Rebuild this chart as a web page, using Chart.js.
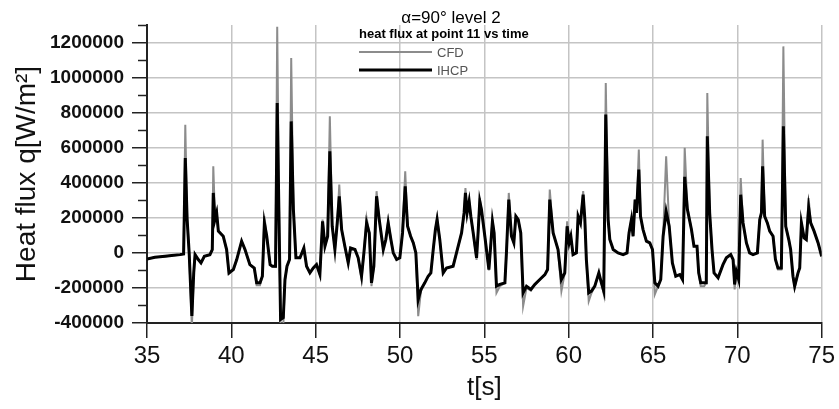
<!DOCTYPE html>
<html>
<head>
<meta charset="utf-8">
<script src="https://cdn.jsdelivr.net/npm/chart.js@4.4.1/dist/chart.umd.min.js"></script>
<style>
  html, body { margin: 0; padding: 0; background: #fff; }
  #wrap { width: 839px; height: 409px; }
</style>
</head>
<body>
<div id="wrap"><canvas id="heatChart" width="839" height="409"></canvas></div>
<script>
// time [s]
const timeS = [
  35.0, 35.47, 36.07, 36.46, 36.96, 37.17, 37.27, 37.38, 37.5, 37.66,
  37.77, 37.85, 38.04, 38.2, 38.4, 38.73, 38.87, 38.93, 39.03, 39.13,
  39.23, 39.52, 39.72, 39.86, 40.12, 40.32, 40.61, 40.81, 41.1, 41.36,
  41.5, 41.7, 41.84, 41.96, 42.1, 42.3, 42.43, 42.62, 42.72, 42.84,
  42.92, 43.08, 43.18, 43.3, 43.45, 43.55, 43.68, 43.83, 44.07, 44.3,
  44.46, 44.66, 44.86, 45.05, 45.25, 45.35, 45.41, 45.55, 45.71, 45.84,
  45.98, 46.14, 46.28, 46.4, 46.54, 46.73, 46.93, 47.07, 47.33, 47.52,
  47.72, 47.86, 48.02, 48.18, 48.31, 48.45, 48.61, 48.77, 49.01, 49.16,
  49.3, 49.46, 49.6, 49.8, 49.99, 50.15, 50.31, 50.45, 50.63, 50.79,
  50.94, 51.08, 51.24, 51.47, 51.67, 51.83, 51.97, 52.1, 52.2, 52.36,
  52.56, 52.76, 53.15, 53.35, 53.65, 53.8, 53.88, 53.98, 54.1, 54.2,
  54.34, 54.54, 54.63, 54.73, 54.83, 55.03, 55.27, 55.39, 55.48, 55.58,
  55.72, 55.92, 56.22, 56.31, 56.45, 56.61, 56.75, 56.87, 57.01, 57.16,
  57.3, 57.5, 57.76, 57.99, 58.29, 58.59, 58.75, 58.88, 59.08, 59.37,
  59.57, 59.77, 59.91, 60.03, 60.13, 60.26, 60.46, 60.56, 60.7, 60.86,
  60.96, 61.05, 61.19, 61.35, 61.55, 61.79, 61.94, 62.08, 62.2, 62.34,
  62.44, 62.64, 62.93, 63.23, 63.46, 63.58, 63.72, 63.82, 63.94, 64.02,
  64.16, 64.26, 64.41, 64.61, 64.81, 64.97, 65.11, 65.3, 65.46, 65.6,
  65.78, 65.96, 66.15, 66.35, 66.59, 66.75, 66.88, 67.04, 67.28, 67.43,
  67.61, 67.71, 67.83, 68.03, 68.16, 68.22, 68.36, 68.5, 68.62, 68.86,
  69.15, 69.35, 69.61, 69.75, 69.84, 69.94, 70.08, 70.2, 70.34, 70.54,
  70.73, 70.93, 71.19, 71.33, 71.43, 71.5, 71.62, 71.78, 71.92, 72.12,
  72.26, 72.41, 72.61, 72.73, 72.87, 73.05, 73.16, 73.3, 73.4, 73.6,
  73.7, 73.8, 73.96, 74.09, 74.23, 74.35, 74.55, 74.79, 75.0
];

// heat flux from the inverse method [W/m2]
const ihcpFlux = [
  -35000, -25000, -19000, -15000, -10000, -6000, 541000, 190000, 0, -360000,
  -114000, -10000, -38000, -57000, -19000, -10000, 19000, 342000, 190000, 228000,
  124000, 95000, 19000, -114000, -95000, -38000, 67000, 19000, -67000, -86000,
  -171000, -171000, -133000, 171000, 95000, -67000, -76000, -76000, 855000, 114000,
  -380000, -370000, -152000, -76000, -38000, 750000, 247000, -28000, -28000, 28000,
  -76000, -114000, -86000, -67000, -124000, 67000, 180000, 38000, 95000, 580000,
  152000, 19000, 171000, 323000, 133000, 38000, -57000, 28000, 19000, -28000,
  -133000, 0, 171000, 114000, -171000, -76000, 323000, 190000, 19000, 76000,
  171000, 76000, 0, -38000, -28000, 114000, 380000, 152000, 95000, 57000,
  0, -266000, -209000, -171000, -133000, -114000, 19000, 133000, 190000, 76000,
  -114000, -86000, -76000, 0, 114000, 228000, 342000, 228000, 294000, 209000,
  114000, -28000, 114000, 294000, 247000, 95000, -95000, 57000, 180000, 114000,
  -190000, -180000, -171000, 0, 304000, 95000, 57000, 209000, 190000, 114000,
  -228000, -190000, -209000, -180000, -152000, -124000, -95000, 304000, 114000, 19000,
  -152000, -114000, 152000, 57000, 95000, -10000, 0, 209000, 171000, 332000,
  190000, -38000, -228000, -218000, -190000, -114000, -171000, -218000, 789000, 190000,
  76000, 19000, 0, -10000, 0, 114000, 190000, 95000, 304000, 228000,
  475000, 209000, 133000, 67000, 57000, 19000, -171000, -190000, -152000, 95000,
  237000, 152000, -57000, -133000, -124000, -152000, 434000, 247000, 133000, 38000,
  38000, -114000, -171000, -171000, -171000, 665000, 228000, 19000, -114000, -142000,
  -67000, -28000, -10000, -38000, -180000, -105000, -152000, 332000, 171000, 57000,
  0, -10000, 0, 190000, 228000, 494000, 209000, 171000, 124000, 95000,
  -38000, -86000, -86000, 722000, 152000, 76000, 19000, -133000, -190000, -114000,
  -86000, 171000, 86000, 76000, 257000, 171000, 124000, 57000, -20000
];

// heat flux from the CFD run [W/m2]
const cfdFlux = [
  -35000, -25000, -20000, -15000, -10000, -6000, 731000, 200000, 0, -425000,
  -120000, -10000, -38000, -60000, -19000, -10000, 19000, 494000, 200000, 235000,
  124000, 95000, 19000, -120000, -95000, -38000, 67000, 19000, -67000, -86000,
  -185000, -185000, -133000, 209000, 95000, -67000, -76000, -80000, 1290000, 150000,
  -435000, -420000, -160000, -76000, -38000, 1111000, 260000, -28000, -28000, 28000,
  -76000, -114000, -86000, -67000, -124000, 67000, 190000, 38000, 95000, 779000,
  160000, 19000, 171000, 390000, 133000, 38000, -57000, 28000, 19000, -28000,
  -152000, 0, 200000, 114000, -190000, -76000, 352000, 190000, 19000, 76000,
  185000, 76000, 0, -38000, -28000, 114000, 466000, 152000, 95000, 57000,
  0, -361000, -220000, -171000, -133000, -114000, 19000, 133000, 200000, 76000,
  -120000, -86000, -76000, 0, 114000, 228000, 370000, 228000, 300000, 209000,
  114000, -40000, 114000, 313000, 247000, 95000, -100000, 57000, 190000, 114000,
  -228000, -190000, -171000, 0, 342000, 95000, 57000, 209000, 190000, 114000,
  -304000, -200000, -215000, -185000, -152000, -124000, -95000, 361000, 114000, 19000,
  -218000, -114000, 180000, 57000, 95000, -10000, 0, 209000, 171000, 352000,
  190000, -38000, -276000, -230000, -190000, -114000, -171000, -235000, 969000, 200000,
  76000, 19000, 0, -10000, 0, 114000, 190000, 95000, 304000, 228000,
  589000, 209000, 133000, 67000, 57000, 19000, -237000, -190000, -152000, 95000,
  551000, 152000, -57000, -133000, -124000, -152000, 599000, 260000, 133000, 38000,
  38000, -114000, -190000, -190000, -171000, 912000, 228000, 19000, -114000, -142000,
  -67000, -28000, -10000, -38000, -209000, -105000, -152000, 427000, 171000, 57000,
  0, -10000, 0, 190000, 228000, 646000, 209000, 171000, 124000, 95000,
  -38000, -95000, -95000, 1178000, 152000, 76000, 19000, -133000, -200000, -114000,
  -86000, 171000, 86000, 76000, 313000, 171000, 124000, 57000, -20000
];

const xTicks = [35, 40, 45, 50, 55, 60, 65, 70, 75];
const yTicks = [-400000, -300000, -200000, -100000, 0, 100000, 200000, 300000, 400000,
  500000, 600000, 700000, 800000, 900000, 1000000, 1100000, 1200000, 1300000];
const yLabelled = [-400000, -200000, 0, 200000, 400000, 600000, 800000, 1000000, 1200000];

const FONT = '"Liberation Sans", Arial, sans-serif';

function toPoints(ys) {
  return timeS.map((t, i) => ({ x: t, y: ys[i] }));
}

// title, subtitle, legend and the short minor ticks on the y axis
const decorPlugin = {
  id: 'decor',
  afterDraw(chart) {
    const ctx = chart.ctx;
    const yScale = chart.scales.y;
    ctx.save();

    ctx.strokeStyle = '#222';
    ctx.lineWidth = 1.5;
    yTicks.forEach(v => {
      if (yLabelled.includes(v)) return;
      const py = Math.round(yScale.getPixelForValue(v)) + 0.5;
      ctx.beginPath();
      ctx.moveTo(yScale.right - 9, py);
      ctx.lineTo(yScale.right, py);
      ctx.stroke();
    });

    ctx.fillStyle = '#000';
    ctx.textAlign = 'center';
    ctx.textBaseline = 'alphabetic';
    ctx.font = '17px ' + FONT;
    ctx.fillText('\u03b1=90\u00b0 level 2', 451, 23);

    ctx.textAlign = 'left';
    ctx.font = 'bold 13px ' + FONT;
    ctx.fillText('heat flux at point 11 vs time', 359, 38);

    const legendRows = [
      { ds: chart.data.datasets[0], y: 52 },
      { ds: chart.data.datasets[1], y: 70 }
    ];
    ctx.font = '13px ' + FONT;
    ctx.textBaseline = 'middle';
    legendRows.forEach(row => {
      ctx.strokeStyle = row.ds.borderColor;
      ctx.lineWidth = row.ds.borderWidth;
      ctx.beginPath();
      ctx.moveTo(359, row.y);
      ctx.lineTo(432, row.y);
      ctx.stroke();
      ctx.fillStyle = '#555';
      ctx.fillText(row.ds.label, 437, row.y + 1);
    });
    ctx.restore();
  }
};

const chart = new Chart(document.getElementById('heatChart'), {
  type: 'line',
  data: {
    datasets: [
      {
        label: 'CFD',
        data: toPoints(cfdFlux),
        borderColor: '#8c8c8c',
        borderWidth: 2,
        pointRadius: 0,
        tension: 0,
        order: 1
      },
      {
        label: 'IHCP',
        data: toPoints(ihcpFlux),
        borderColor: '#000',
        borderWidth: 3,
        pointRadius: 0,
        tension: 0,
        order: 0
      }
    ]
  },
  options: {
    responsive: false,
    animation: false,
    layout: { padding: { top: 25, right: 17, left: 0, bottom: 0 } },
    plugins: {
      legend: { display: false },
      tooltip: { enabled: false }
    },
    scales: {
      x: {
        type: 'linear',
        min: 35,
        max: 75,
        afterBuildTicks: s => { s.ticks = xTicks.map(v => ({ value: v })); },
        afterFit: s => { s.height = 86; },
        border: { color: '#222', width: 2 },
        grid: {
          color: '#c4c4c4',
          lineWidth: 1.5,
          tickColor: '#222',
          tickLength: 15
        },
        ticks: {
          autoSkip: false,
          maxRotation: 0,
          padding: 4,
          color: '#111',
          font: { family: FONT, size: 24 }
        },
        title: {
          display: true,
          text: 't[s]',
          color: '#111',
          font: { family: FONT, size: 26 },
          padding: { top: 0, bottom: 6 }
        }
      },
      y: {
        type: 'linear',
        min: -400000,
        max: 1300000,
        afterBuildTicks: s => { s.ticks = yTicks.map(v => ({ value: v })); },
        afterFit: s => { s.width = 147; },
        border: { color: '#222', width: 2 },
        grid: {
          color: c => yLabelled.includes(c.tick.value) ? '#c4c4c4' : 'rgba(0,0,0,0)',
          lineWidth: 1.5,
          tickColor: c => yLabelled.includes(c.tick.value) ? '#222' : 'rgba(0,0,0,0)',
          tickLength: 15
        },
        ticks: {
          autoSkip: false,
          padding: 8,
          color: '#111',
          font: { family: FONT, size: 19, weight: 'bold' },
          callback: v => yLabelled.includes(v) ? String(v) : ''
        },
        title: {
          display: true,
          text: 'Heat flux q[W/m\u00b2]',
          color: '#111',
          font: { family: FONT, size: 28 },
          padding: { top: 10, bottom: 0 }
        }
      }
    }
  },
  plugins: [decorPlugin]
});
</script>
</body>
</html>
